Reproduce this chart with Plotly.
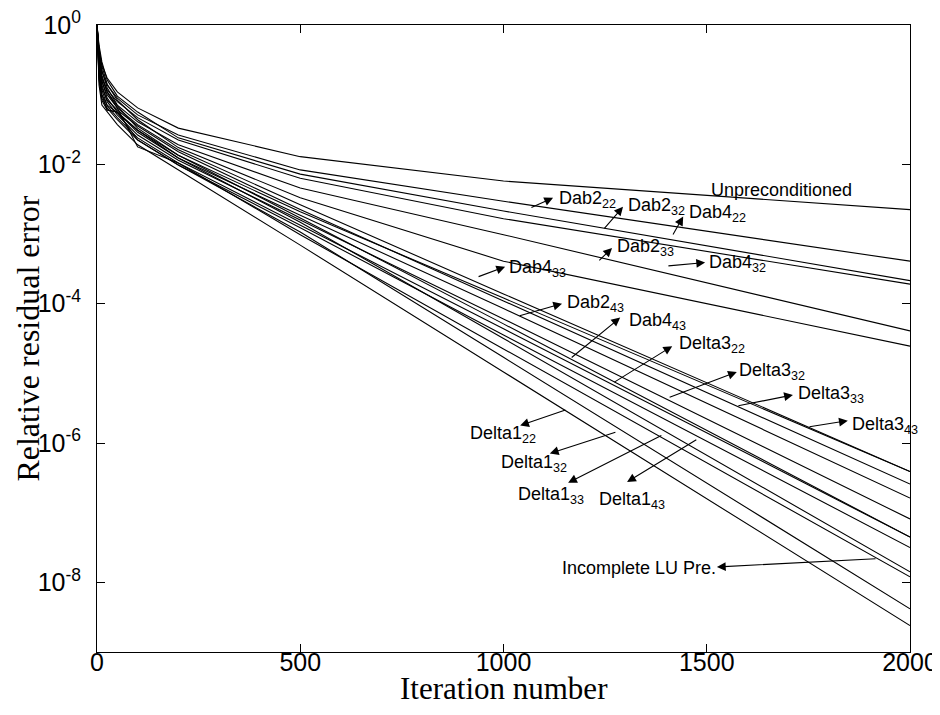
import plotly.graph_objects as go

# Iteration grid (shared by all curves)
iterations = [0, 5, 12, 25, 50, 100, 200, 500, 1000, 2000]

# log10 of the relative residual error
unprec    = [0, -0.36, -0.57, -0.76, -0.96, -1.19, -1.48, -1.89, -2.24, -2.65]
dab2_22   = [0, -0.43, -0.67, -0.86, -1.05, -1.29, -1.58, -2.08, -2.53, -3.39]
dab2_32   = [0, -0.29, -0.53, -0.79, -1.02, -1.25, -1.62, -2.14, -2.67, -3.67]
dab4_22   = [0, -0.50, -0.76, -0.93, -1.10, -1.33, -1.65, -2.20, -2.78, -3.72]
dab2_33   = [0, -0.39, -0.65, -0.90, -1.15, -1.39, -1.72, -2.34, -3.01, -4.39]
dab4_32   = [0, -0.33, -0.59, -0.85, -1.08, -1.36, -1.76, -2.48, -3.39, -4.61]
dab4_33   = [0, -0.53, -0.82, -1.00, -1.19, -1.43, -1.79, -2.58, -3.86, -6.41]
delta3_43 = [0, -0.47, -0.72, -0.96, -1.16, -1.48, -1.87, -2.68, -3.92, -6.41]
delta3_33 = [0, -0.65, -0.90, -1.08, -1.22, -1.45, -1.82, -2.65, -3.96, -6.59]
dab2_43   = [0, -0.43, -0.79, -1.05, -1.25, -1.51, -1.91, -2.73, -4.07, -6.79]
delta3_32 = [0, -0.57, -0.86, -1.10, -1.29, -1.58, -1.94, -2.80, -4.22, -7.09]
delta3_22 = [0, -0.72, -1.00, -1.15, -1.26, -1.51, -1.87, -2.77, -4.29, -7.35]
dab4_43   = [0, -0.62, -0.93, -1.16, -1.33, -1.62, -1.98, -2.87, -4.36, -7.35]
delta1_43 = [0, -0.79, -1.08, -1.22, -1.25, -1.65, -2.01, -2.91, -4.45, -7.50]
delta1_33 = [0, -0.67, -1.00, -1.22, -1.25, -1.54, -1.91, -2.83, -4.50, -7.85]
ilu       = [0, -0.47, -0.76, -0.96, -1.19, -1.75, -1.98, -3.01, -4.65, -7.92]
delta1_32 = [0, -0.76, -1.05, -1.19, -1.36, -1.65, -2.01, -2.97, -4.77, -8.38]
delta1_22 = [0, -0.86, -1.15, -1.25, -1.43, -1.72, -2.08, -3.16, -4.98, -8.62]

series = [
    ("Unpreconditioned", unprec), ("Dab2_22", dab2_22), ("Dab2_32", dab2_32),
    ("Dab4_22", dab4_22), ("Dab2_33", dab2_33), ("Dab4_32", dab4_32),
    ("Dab4_33", dab4_33), ("Delta3_43", delta3_43), ("Delta3_33", delta3_33),
    ("Dab2_43", dab2_43), ("Delta3_32", delta3_32), ("Delta3_22", delta3_22),
    ("Dab4_43", dab4_43), ("Delta1_43", delta1_43), ("Delta1_33", delta1_33),
    ("Incomplete LU Pre.", ilu), ("Delta1_32", delta1_32), ("Delta1_22", delta1_22),
]

# Tick labels
x_ticks = [0, 500, 1000, 1500, 2000]
y_tick_exps = [0, -2, -4, -6, -8]
x_title = "Iteration number"
y_title = "Relative residual error"

# Label annotations: (text, x, log10 y) and arrows (tail x, tail log y, head x, head log y)
labels = [
    ("Unpreconditioned", 1506, -2.37),
    ("Dab2<sub>22</sub>", 1132, -2.50),
    ("Dab2<sub>32</sub>", 1301, -2.60),
    ("Dab4<sub>22</sub>", 1451, -2.71),
    ("Dab2<sub>33</sub>", 1274, -3.20),
    ("Dab4<sub>32</sub>", 1501, -3.43),
    ("Dab4<sub>33</sub>", 1009, -3.50),
    ("Dab2<sub>43</sub>", 1151, -4.00),
    ("Dab4<sub>43</sub>", 1304, -4.26),
    ("Delta3<sub>22</sub>", 1427, -4.58),
    ("Delta3<sub>32</sub>", 1574, -4.97),
    ("Delta3<sub>33</sub>", 1720, -5.31),
    ("Delta3<sub>43</sub>", 1852, -5.75),
    ("Delta1<sub>22</sub>", 913, -5.88),
    ("Delta1<sub>32</sub>", 989, -6.29),
    ("Delta1<sub>33</sub>", 1031, -6.76),
    ("Delta1<sub>43</sub>", 1230, -6.82),
    ("Incomplete LU Pre.", 1139, -7.79),
]
arrows = [
    (1065, -2.63, 1122, -2.48),
    (1245, -2.94, 1294, -2.61),
    (1415, -3.03, 1442, -2.75),
    (1232, -3.40, 1267, -3.20),
    (1402, -3.46, 1496, -3.41),
    (935, -3.62, 1004, -3.47),
    (1036, -4.18, 1144, -4.00),
    (1164, -4.79, 1287, -4.20),
    (1269, -5.14, 1415, -4.61),
    (1405, -5.35, 1574, -4.98),
    (1574, -5.47, 1712, -5.31),
    (1749, -5.77, 1847, -5.68),
    (1156, -5.52, 1041, -5.75),
    (1279, -5.84, 1114, -6.15),
    (1392, -5.88, 1159, -6.57),
    (1478, -5.94, 1304, -6.56),
    (1919, -7.66, 1525, -7.78),
]

fig = go.Figure()
for name, logs in series:
    fig.add_trace(go.Scatter(
        x=iterations, y=[10 ** v for v in logs], mode="lines", name=name,
        line=dict(color="black", width=1.1), showlegend=False,
    ))

annotations = []
for text, x, y in labels:
    annotations.append(dict(
        x=x, y=y, xref="x", yref="y", text=text, showarrow=False,
        xanchor="left", yanchor="middle",
        font=dict(family="Liberation Sans, Arial, sans-serif", size=18, color="black"),
    ))
for tx, ty, hx, hy in arrows:
    annotations.append(dict(
        x=hx, y=hy, ax=tx, ay=ty, xref="x", yref="y", axref="x", ayref="y",
        text="", showarrow=True, arrowhead=2, arrowsize=1.6, arrowwidth=1.1,
        arrowcolor="black", standoff=0, startstandoff=0,
    ))

serif = "Liberation Serif, Times New Roman, serif"
annotations.append(dict(
    x=0.5, y=-0.058, xref="paper", yref="paper", text=x_title, showarrow=False,
    xanchor="center", yanchor="middle",
    font=dict(family=serif, size=31, color="black"),
))
annotations.append(dict(
    x=-0.086, y=0.5, xref="paper", yref="paper", text=y_title, showarrow=False,
    xanchor="center", yanchor="middle", textangle=-90,
    font=dict(family=serif, size=32, color="black"),
))

# The page body adds an 8px offset, so the figure is 8px smaller and shifted.
fig.update_layout(
    width=932, height=699,
    margin=dict(l=89, r=30, t=17, b=55),
    paper_bgcolor="white", plot_bgcolor="white",
    showlegend=False,
    annotations=annotations,
    xaxis=dict(
        range=[0, 2000], tickvals=x_ticks, ticktext=[str(t) for t in x_ticks],
        showline=True, linecolor="black", linewidth=1, mirror="ticks",
        ticks="inside", ticklen=8, tickcolor="black", showgrid=False, zeroline=False,
        automargin=False, ticklabelstandoff=-12, ticklabeloverflow="allow",
        tickfont=dict(family="Liberation Sans, Arial, sans-serif", size=25, color="black"),
    ),
    yaxis=dict(
        type="log", range=[-9, 0],
        tickvals=[10 ** e for e in y_tick_exps],
        ticktext=["10<sup>%s</sup>" % ("0" if e == 0 else "-%d" % (-e)) for e in y_tick_exps],
        showline=True, linecolor="black", linewidth=1, mirror="ticks",
        ticks="inside", ticklen=8, tickcolor="black", showgrid=False, zeroline=False,
        automargin=False, ticklabelstandoff=10, ticklabeloverflow="allow",
        tickfont=dict(family="Liberation Sans, Arial, sans-serif", size=25, color="black"),
    ),
)

fig.write_html("out.html")
